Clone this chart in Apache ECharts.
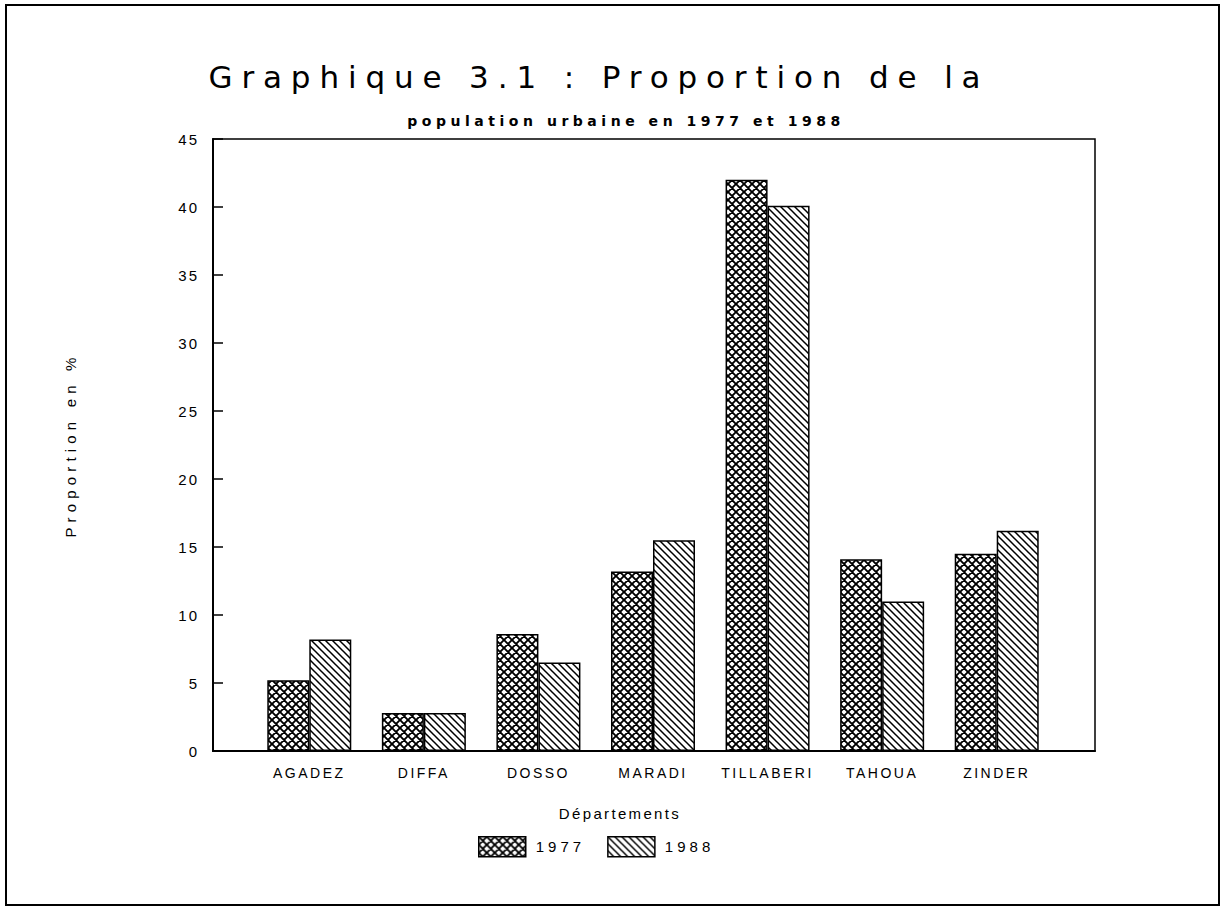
<!DOCTYPE html>
<html><head><meta charset="utf-8">
<script src="https://cdn.jsdelivr.net/npm/echarts@6/dist/echarts.min.js"></script>
<style>html,body{margin:0;padding:0;background:#fff}#c{width:1222px;height:907px}</style>
</head><body><div id="c"></div>
<script>
// ---- data ----
const categories = ['AGADEZ', 'DIFFA', 'DOSSO', 'MARADI', 'TILLABERI', 'TAHOUA', 'ZINDER'];
const values1977 = [5.2, 2.8, 8.6, 13.2, 42.0, 14.1, 14.5];
const values1988 = [8.2, 2.8, 6.5, 15.5, 40.1, 11.0, 16.2];
const seriesNames = ['1977', '1988'];
const yMin = 0, yMax = 45, yInterval = 5;
const titleText = 'Graphique 3.1 : Proportion de la';
const subtitleText = 'population urbaine en 1977 et 1988';
const yAxisName = 'Proportion en %';
const xAxisName = 'Départements';

// ---- hatch patterns ----
function makePattern(kind, s, w) {
  const c = document.createElement('canvas');
  c.width = s; c.height = s;
  const g = c.getContext('2d');
  g.fillStyle = '#fff'; g.fillRect(0, 0, s, s);
  g.strokeStyle = '#000'; g.lineWidth = w; g.lineCap = 'square';
  g.beginPath();
  if (kind === 'back' || kind === 'cross') {
    for (let k = -1; k <= 1; k++) { g.moveTo(-s, -s + k * s); g.lineTo(2 * s, 2 * s + k * s); }
  }
  if (kind === 'cross') {
    for (let k = 0; k <= 2; k++) { g.moveTo(-s, k * s + s); g.lineTo(2 * s, k * s - 2 * s); }
  }
  g.stroke();
  return { image: c, repeat: 'repeat' };
}
const crossFill = makePattern('cross', 8, 1.9);
const diagFill = makePattern('back', 7, 1.5);

const FONT = 'Liberation Sans';
const chart = echarts.init(document.getElementById('c'), null, { renderer: 'svg' });
chart.setOption({
  animation: false,
  backgroundColor: '#fff',
  graphic: [
    { type: 'rect', shape: { x: 6, y: 5, width: 1213, height: 900 }, style: { fill: 'none', stroke: '#000', lineWidth: 2 }, silent: true },
    { type: 'text', x: 599, y: 77, style: { text: titleText, align: 'center', verticalAlign: 'middle', font: 'normal 31px "DejaVu Sans"', fill: '#000' } },
    { type: 'text', x: 626, y: 121, style: { text: subtitleText, align: 'center', verticalAlign: 'middle', font: 'bold 14px "DejaVu Sans"', fill: '#000' } },
    { type: 'text', x: 620, y: 813, style: { text: xAxisName, align: 'center', verticalAlign: 'middle', font: 'normal 15px "' + FONT + '"', fill: '#000' } }
  ],
  legend: {
    data: seriesNames,
    left: 473, top: 831,
    itemWidth: 47, itemHeight: 20, itemGap: 38,
    icon: 'rect',
    textStyle: { fontFamily: FONT, fontSize: 15, color: '#000', padding: [0, 0, 0, 5] },
    itemStyle: { borderColor: '#000', borderWidth: 1.5 }
  },
  grid: [
    { left: 213, right: 127, top: 139, bottom: 156, show: true, borderColor: '#000', borderWidth: 1.5, backgroundColor: 'transparent' },
    { left: 252, right: 168, top: 139, bottom: 156 }
  ],
  xAxis: [
    { gridIndex: 0, type: 'category', data: categories, axisLabel: { show: false }, axisTick: { show: false },
      axisLine: { show: true, lineStyle: { color: '#000', width: 2 } }, splitLine: { show: false } },
    { gridIndex: 1, type: 'category', data: categories, axisTick: { show: false }, axisLine: { show: false },
      axisLabel: { color: '#000', fontFamily: FONT, fontSize: 14, margin: 15 } }
  ],
  yAxis: [
    { gridIndex: 0, type: 'value', min: yMin, max: yMax, interval: yInterval,
      name: yAxisName, nameLocation: 'middle', nameRotate: 90, nameGap: 135,
      nameTextStyle: { color: '#000', fontFamily: FONT, fontSize: 15 },
      axisLine: { show: true, lineStyle: { color: '#000', width: 2 } },
      axisTick: { show: true, inside: true, length: 10, lineStyle: { color: '#000', width: 1.5 } },
      axisLabel: { color: '#000', fontFamily: FONT, fontSize: 15, margin: 14 },
      splitLine: { show: false } },
    { gridIndex: 1, type: 'value', min: yMin, max: yMax, interval: yInterval, show: false }
  ],
  series: [
    { name: seriesNames[0], type: 'bar', xAxisIndex: 1, yAxisIndex: 1, data: values1977, barWidth: 42, barGap: '0%',
      itemStyle: { color: crossFill, borderColor: '#000', borderWidth: 1.5 } },
    { name: seriesNames[1], type: 'bar', xAxisIndex: 1, yAxisIndex: 1, data: values1988, barWidth: 42, barGap: '0%',
      itemStyle: { color: diagFill, borderColor: '#000', borderWidth: 1.5 } }
  ]
});

// wide letter spacing like the plotter font of the original
const targetWidths = {};
targetWidths[titleText] = 772;
targetWidths[subtitleText] = 433;
targetWidths[yAxisName] = 180;
targetWidths[xAxisName] = 120;
const fixedSpacing = { '1977': 4, '1988': 4 };
function spaceTexts() {
  document.querySelectorAll('#c svg text').forEach(t => {
    const s = t.textContent;
    if (targetWidths[s] != null) {
      t.style.letterSpacing = '0px';
      const w = t.getComputedTextLength();
      const ls = (targetWidths[s] - w) / (s.length - 1);
      if (ls > 0) t.style.letterSpacing = ls.toFixed(2) + 'px';
    } else if (fixedSpacing[s] != null) {
      t.style.letterSpacing = fixedSpacing[s] + 'px';
    } else if (categories.indexOf(s) >= 0) {
      t.style.letterSpacing = '2.5px';
    } else {
      t.style.letterSpacing = '2px';
    }
  });
}
spaceTexts();
setTimeout(spaceTexts, 50);
</script>
</body></html>
